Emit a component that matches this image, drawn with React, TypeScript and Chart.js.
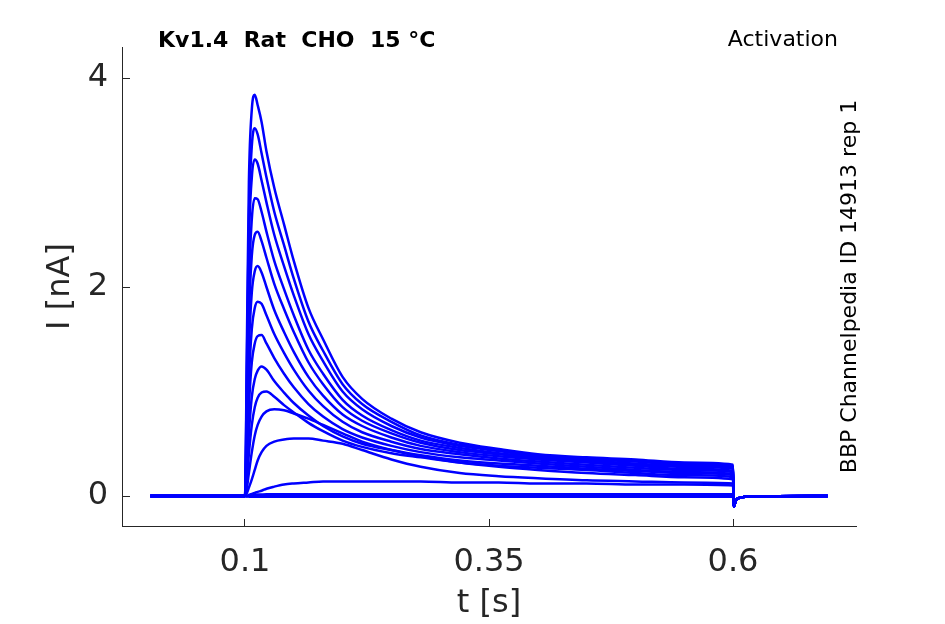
import { useEffect, useRef } from "react";
import Chart, { ChartConfiguration, Plugin } from "chart.js/auto";

// time base (s): holding before the step, the step itself, and the return
const preTimes = [0.003, 0.0995, 0.1];
const stepTimes = [
  0.102, 0.104, 0.107, 0.11, 0.113, 0.117, 0.122, 0.13, 0.14, 0.15, 0.165,
  0.18, 0.2, 0.22, 0.25, 0.28, 0.32, 0.36, 0.4, 0.45, 0.5, 0.55, 0.6,
];
const offTimes = [0.6008, 0.603, 0.608, 0.62, 0.697];

const preValues = [0, 0, 0];
const offValues = [-0.1, -0.04, -0.015, -0.005, 0];

// current (nA) during the step, one array per sweep
const sweep1 = [1.5, 3.0, 3.7, 3.84, 3.74, 3.58, 3.3, 2.95, 2.6, 2.25, 1.8, 1.5, 1.14, 0.93, 0.74, 0.61, 0.51, 0.45, 0.4, 0.37, 0.35, 0.32, 0.3];
const sweep2 = [1.3, 2.65, 3.35, 3.52, 3.46, 3.28, 3.05, 2.72, 2.4, 2.08, 1.67, 1.39, 1.07, 0.88, 0.71, 0.58, 0.49, 0.44, 0.39, 0.36, 0.34, 0.31, 0.29];
const sweep3 = [1.1, 2.4, 3.05, 3.22, 3.18, 3.02, 2.81, 2.5, 2.2, 1.92, 1.55, 1.29, 1.0, 0.83, 0.67, 0.56, 0.48, 0.43, 0.38, 0.35, 0.33, 0.3, 0.28];
const sweep4 = [0.9, 2.0, 2.65, 2.85, 2.84, 2.72, 2.53, 2.25, 1.98, 1.73, 1.4, 1.17, 0.92, 0.77, 0.63, 0.53, 0.46, 0.41, 0.37, 0.34, 0.31, 0.29, 0.27];
const sweep5 = [0.75, 1.7, 2.3, 2.5, 2.53, 2.44, 2.28, 2.03, 1.79, 1.57, 1.28, 1.07, 0.85, 0.72, 0.6, 0.51, 0.44, 0.4, 0.36, 0.33, 0.3, 0.28, 0.26];
const sweep6 = [0.6, 1.4, 1.95, 2.15, 2.2, 2.14, 2.0, 1.78, 1.57, 1.38, 1.14, 0.96, 0.78, 0.67, 0.56, 0.48, 0.42, 0.38, 0.35, 0.32, 0.29, 0.26, 0.24];
const sweep7 = [0.45, 1.1, 1.6, 1.8, 1.86, 1.84, 1.73, 1.55, 1.37, 1.21, 1.01, 0.86, 0.71, 0.61, 0.52, 0.45, 0.4, 0.36, 0.33, 0.3, 0.27, 0.25, 0.23];
const sweep8 = [0.35, 0.85, 1.28, 1.46, 1.53, 1.54, 1.46, 1.32, 1.17, 1.04, 0.88, 0.76, 0.64, 0.56, 0.48, 0.42, 0.37, 0.34, 0.31, 0.28, 0.25, 0.23, 0.21];
const sweep9 = [0.25, 0.6, 0.95, 1.12, 1.2, 1.24, 1.21, 1.1, 0.99, 0.89, 0.77, 0.67, 0.57, 0.5, 0.44, 0.39, 0.34, 0.31, 0.29, 0.26, 0.24, 0.22, 0.2];
const sweep10 = [0.15, 0.4, 0.68, 0.85, 0.94, 0.99, 1.0, 0.95, 0.87, 0.8, 0.7, 0.62, 0.53, 0.47, 0.41, 0.37, 0.32, 0.29, 0.27, 0.25, 0.22, 0.2, 0.18];
const sweep11 = [0.08, 0.22, 0.42, 0.58, 0.68, 0.76, 0.81, 0.83, 0.82, 0.79, 0.74, 0.68, 0.6, 0.52, 0.44, 0.38, 0.32, 0.28, 0.25, 0.22, 0.2, 0.18, 0.16];
const sweep12 = [0.03, 0.08, 0.16, 0.25, 0.34, 0.42, 0.48, 0.52, 0.54, 0.55, 0.55, 0.53, 0.5, 0.44, 0.35, 0.28, 0.22, 0.19, 0.17, 0.15, 0.14, 0.13, 0.12];
const sweep13 = [0.0, 0.01, 0.02, 0.03, 0.04, 0.05, 0.07, 0.09, 0.11, 0.12, 0.13, 0.14, 0.14, 0.14, 0.14, 0.14, 0.13, 0.13, 0.12, 0.12, 0.11, 0.11, 0.1];
const sweep14 = [0.0, 0.005, 0.01, 0.012, 0.014, 0.015, 0.016, 0.016, 0.017, 0.017, 0.018, 0.018, 0.018, 0.018, 0.018, 0.018, 0.018, 0.018, 0.018, 0.018, 0.018, 0.018, 0.018];
const sweep15 = [0.0, 0.002, 0.004, 0.005, 0.005, 0.005, 0.005, 0.005, 0.005, 0.005, 0.005, 0.005, 0.005, 0.005, 0.005, 0.005, 0.005, 0.005, 0.005, 0.005, 0.005, 0.005, 0.005];
const sweep16 = [-0.004, -0.006, -0.008, -0.008, -0.008, -0.008, -0.008, -0.008, -0.008, -0.008, -0.008, -0.008, -0.008, -0.008, -0.008, -0.008, -0.008, -0.008, -0.008, -0.008, -0.008, -0.008, -0.008];

const sweeps = [
  sweep1, sweep2, sweep3, sweep4, sweep5, sweep6, sweep7, sweep8,
  sweep9, sweep10, sweep11, sweep12, sweep13, sweep14, sweep15, sweep16,
];

const xTicks = [0.1, 0.35, 0.6];
const yTicks = [0, 2, 4];

const titleText = "Kv1.4  Rat  CHO  15 °C";
const protocolText = "Activation";
const sourceText = "BBP Channelpedia ID 14913 rep 1";

const axisColor = "#262626";
const traceColor = "#0000ff";
const fontFamily = "'DejaVu Sans', sans-serif";

const App = () => {
  const canvasRef = useRef<HTMLCanvasElement | null>(null);
  const chartRef = useRef<Chart<"line"> | null>(null);

  useEffect(() => {
    const times = [...preTimes, ...stepTimes, ...offTimes];

    const datasets = sweeps.map((sweep, i) => {
      const values = [...preValues, ...sweep, ...offValues];
      return {
        label: `sweep ${i + 1}`,
        data: times.map((t, j) => ({ x: t, y: values[j] })),
        borderColor: traceColor,
        backgroundColor: traceColor,
        borderWidth: 2.5,
        pointRadius: 0,
        cubicInterpolationMode: "monotone" as const,
        fill: false,
      };
    });

    // texts around the axes
    const annotations: Plugin<"line"> = {
      id: "annotations",
      afterDraw(chart) {
        const { ctx, chartArea } = chart;
        ctx.save();
        ctx.fillStyle = "#000";
        ctx.textBaseline = "alphabetic";

        ctx.font = `bold 22px ${fontFamily}`;
        ctx.textAlign = "left";
        ctx.fillText(titleText, 158, 47);

        ctx.font = `22px ${fontFamily}`;
        ctx.textAlign = "right";
        ctx.fillText(protocolText, 838, 46);

        ctx.translate(chartArea.right, (chartArea.top + chartArea.bottom) / 2);
        ctx.rotate(-Math.PI / 2);
        ctx.textAlign = "center";
        ctx.fillText(sourceText, 0, 0);
        ctx.restore();
      },
    };

    const config: ChartConfiguration<"line"> = {
      type: "line",
      data: { datasets },
      options: {
        animation: false,
        responsive: false,
        events: [],
        layout: { padding: { top: 47, right: 89, left: 0, bottom: 0 } },
        plugins: {
          legend: { display: false },
          tooltip: { enabled: false },
        },
        scales: {
          x: {
            type: "linear",
            min: -0.026,
            max: 0.726,
            afterBuildTicks: (scale) => {
              scale.ticks = xTicks.map((v) => ({ value: v }));
            },
            afterFit: (scale) => {
              scale.height = 98;
            },
            ticks: {
              autoSkip: false,
              maxRotation: 0,
              padding: 24,
              color: axisColor,
              font: { family: fontFamily, size: 32 },
              callback: (v) => String(v),
            },
            grid: {
              drawOnChartArea: false,
              tickLength: -7,
              color: axisColor,
              lineWidth: 1,
            },
            border: { display: true, color: axisColor, width: 1 },
            title: {
              display: true,
              text: "t [s]",
              color: axisColor,
              font: { family: fontFamily, size: 32 },
              padding: { top: 0, bottom: 1 },
            },
          },
          y: {
            type: "linear",
            min: -0.287,
            max: 4.297,
            afterBuildTicks: (scale) => {
              scale.ticks = yTicks.map((v) => ({ value: v }));
            },
            afterFit: (scale) => {
              scale.width = 122;
            },
            ticks: {
              padding: 22,
              color: axisColor,
              font: { family: fontFamily, size: 32 },
              callback: (v) => String(v),
            },
            grid: {
              drawOnChartArea: false,
              tickLength: -8,
              color: axisColor,
              lineWidth: 1,
            },
            border: { display: true, color: axisColor, width: 1 },
            title: {
              display: true,
              text: "I [nA]",
              color: axisColor,
              font: { family: fontFamily, size: 32 },
              padding: { top: 41, bottom: 0 },
            },
          },
        },
      },
      plugins: [annotations],
    };

    if (chartRef.current) {
      chartRef.current.destroy();
    }
    if (canvasRef.current) {
      chartRef.current = new Chart(canvasRef.current, config);
    }

    return () => {
      if (chartRef.current) {
        chartRef.current.destroy();
        chartRef.current = null;
      }
    };
  }, []);

  return (
    <div style={{ position: "absolute", left: 0, top: 0, width: 945, height: 624, background: "#fff" }}>
      <canvas ref={canvasRef} width={945} height={624} />
    </div>
  );
};

export default App;
